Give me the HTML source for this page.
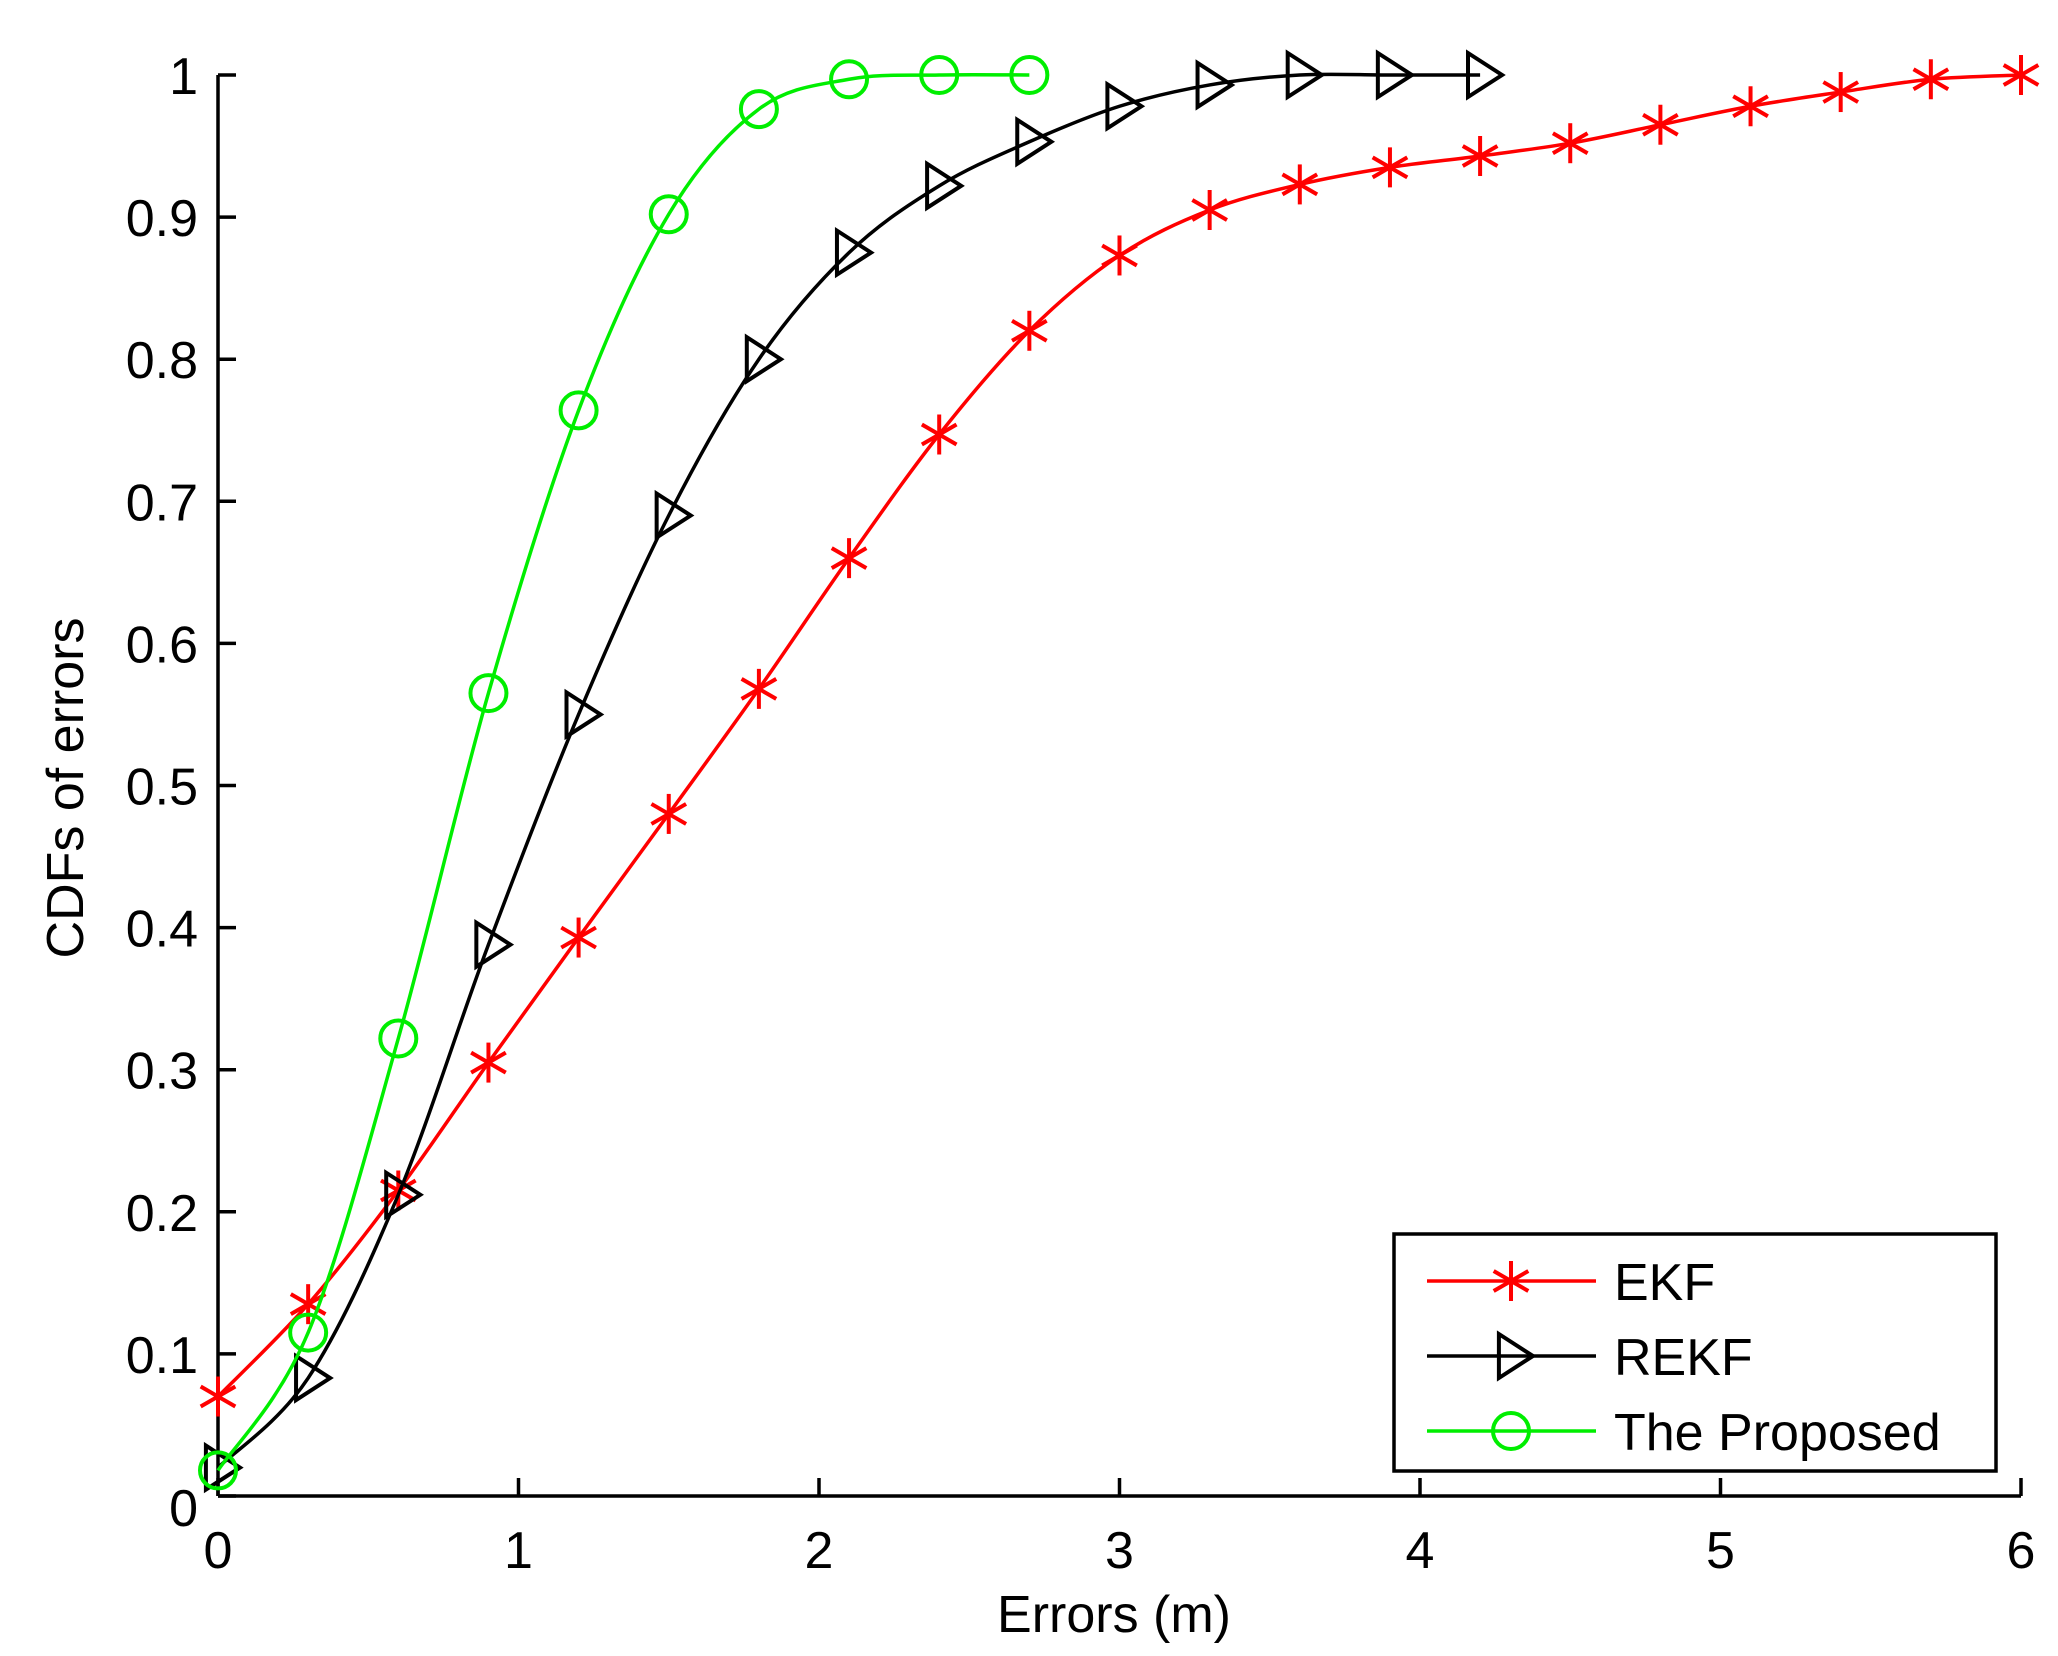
<!DOCTYPE html>
<html><head><meta charset="utf-8"><style>
html,body{margin:0;padding:0;background:#fff}
svg{display:block}
text{font-family:"Liberation Sans",Arial,sans-serif;fill:#000}
</style></head><body>
<svg id="chart" width="2058" height="1656" viewBox="0 0 2058 1656" xmlns="http://www.w3.org/2000/svg">
<rect width="2058" height="1656" fill="#fff"/>
<g id="axes"></g>
<g id="series"></g>
<g id="legend"></g>
</svg>
<script>
const xTicks = [0,1,2,3,4,5,6];
const yTicks = [0,0.1,0.2,0.3,0.4,0.5,0.6,0.7,0.8,0.9,1];
const yTickLabels = ["0","0.1","0.2","0.3","0.4","0.5","0.6","0.7","0.8","0.9","1"];
const ekfX = [0,0.3,0.6,0.9,1.2,1.5,1.8,2.1,2.4,2.7,3.0,3.3,3.6,3.9,4.2,4.5,4.8,5.1,5.4,5.7,6.0];
const ekfY = [0.07,0.135,0.215,0.305,0.393,0.48,0.568,0.66,0.747,0.82,0.873,0.905,0.923,0.935,0.943,0.952,0.965,0.978,0.988,0.997,1.0];
const rekfX = [0,0.3,0.6,0.9,1.2,1.5,1.8,2.1,2.4,2.7,3.0,3.3,3.6,3.9,4.2];
const rekfY = [0.02,0.083,0.212,0.388,0.55,0.69,0.8,0.875,0.922,0.953,0.978,0.993,1.0,1.0,1.0];
const propX = [0,0.3,0.6,0.9,1.2,1.5,1.8,2.1,2.4,2.7];
const propY = [0.018,0.115,0.322,0.565,0.764,0.902,0.976,0.997,1.0,1.0];

const NS='http://www.w3.org/2000/svg';
const X0=218,X1=2021,Y0=1496,Y1=75;
const sx=v=>X0+(v-0)/(6-0)*(X1-X0);
const sy=v=>Y0-(v-0)/(1-0)*(Y0-Y1);
function mk(tag,attrs,parent){const e=document.createElementNS(NS,tag);for(const k in attrs)e.setAttribute(k,attrs[k]);parent.appendChild(e);return e;}
const axes=document.getElementById('axes');
const series=document.getElementById('series');
const legend=document.getElementById('legend');
const FS=52;

let el=mk('line',{x1:X0,y1:Y0,x2:X1,y2:Y0,stroke:'#000','stroke-width':3.5},axes);


el=mk('line',{x1:X0,y1:Y0,x2:X0,y2:Y1,stroke:'#000','stroke-width':3.5},axes);


xTicks.forEach((t)=>{
  const x=sx(t);
  let tk=mk('line',{x1:x,y1:Y0,x2:x,y2:Y0-18,stroke:'#000','stroke-width':3.5},axes);
  
  
  let lb=mk('text',{x:x,y:1568,'font-size':FS,'text-anchor':'middle'},axes);
  lb.textContent=String(t);
  
  
});
yTicks.forEach((t,i)=>{
  const y=sy(t);
  let tk=mk('line',{x1:X0,y1:y,x2:X0+18,y2:y,stroke:'#000','stroke-width':3.5},axes);
  
  
  let lb=mk('text',{x:198,y:y+(i===0?30:19),'font-size':FS,'text-anchor':'end'},axes);
  lb.textContent=yTickLabels[i];
  
  
});
el=mk('text',{x:1114,y:1632,'font-size':FS,'text-anchor':'middle'},axes);
el.textContent='Errors (m)';


el=mk('text',{x:0,y:0,'font-size':FS,'text-anchor':'middle',transform:'translate(83,788) rotate(-90)'},axes);
el.textContent='CDFs of errors';



function star(g,x,y,c){const r=20;
  [[0,-r,0,r],[-r*0.866,-r*0.5,r*0.866,r*0.5],[-r*0.866,r*0.5,r*0.866,-r*0.5]].forEach(s=>{
    mk('line',{x1:x+s[0],y1:y+s[1],x2:x+s[2],y2:y+s[3],stroke:c,'stroke-width':4},g);});}
function tri(g,x,y,c){const r=22;
  mk('polygon',{points:`${x-r*0.55},${y-r} ${x+r},${y} ${x-r*0.55},${y+r}`,fill:'none',stroke:c,'stroke-width':4},g);}
function circ(g,x,y,c){mk('circle',{cx:x,cy:y,r:18,fill:'none',stroke:c,'stroke-width':4},g);}

function smoothPath(pts){
  let d='M'+pts[0][0]+','+pts[0][1];
  for(let i=0;i<pts.length-1;i++){
    const p0=pts[Math.max(0,i-1)],p1=pts[i],p2=pts[i+1],p3=pts[Math.min(pts.length-1,i+2)];
    const c1x=p1[0]+(p2[0]-p0[0])/6,c1y=p1[1]+(p2[1]-p0[1])/6;
    const c2x=p2[0]-(p3[0]-p1[0])/6,c2y=p2[1]-(p3[1]-p1[1])/6;
    d+=` C${c1x},${c1y} ${c2x},${c2y} ${p2[0]},${p2[1]}`;
  }
  return d;
}
function drawSeries(xs,ys,color,marker,name){
  const g=mk('g',{},series);
  
  
  const pts=xs.map((x,i)=>[sx(x),sy(ys[i])]);
  const p=mk('path',{d:smoothPath(pts),fill:'none',stroke:color,'stroke-width':3.5},g);
  
  
  pts.forEach(q=>marker(g,q[0],q[1],color));
}
drawSeries(ekfX,ekfY,'#ff0000',star,'ekf-series');
drawSeries(rekfX,rekfY,'#000000',tri,'rekf-series');
drawSeries(propX,propY,'#00ee00',circ,'proposed-series');

el=mk('rect',{x:1394,y:1234,width:602,height:237,fill:'#fff',stroke:'#000','stroke-width':3.5},legend);


const entries=[['EKF','#ff0000',star,1281],['REKF','#000000',tri,1356],['The Proposed','#00ee00',circ,1431]];
entries.forEach(en=>{
  const g=mk('g',{},legend);
  
  
  mk('line',{x1:1427,y1:en[3],x2:1596,y2:en[3],stroke:en[1],'stroke-width':3.5},g);
  en[2](g,1511,en[3],en[1]);
  const t=mk('text',{x:1614,y:en[3]+19,'font-size':FS},g);
  t.textContent=en[0];
});
</script>
</body></html>
